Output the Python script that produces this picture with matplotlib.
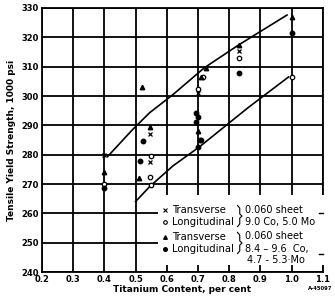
import numpy as np
import matplotlib
matplotlib.use('Agg')
import matplotlib.pyplot as plt
from matplotlib.patches import Rectangle

plt.rcParams['font.family'] = ['DejaVu Sans']

# 0.060 sheet, 9.0 Co, 5.0 Mo
trans_x = [0.40, 0.545, 0.545, 0.70, 0.83]
trans_y = [280, 287, 277.5, 301, 315.5]
long_x = [0.40, 0.55, 0.545, 0.55, 0.70, 0.715, 0.71, 0.83, 1.00]
long_y = [270, 279.5, 272.5, 269.5, 302.5, 306.5, 285, 313, 306.5]
# 0.060 sheet, 8.4-9.6 Co, 4.7-5.3 Mo
tri_x = [0.40, 0.52, 0.545, 0.51, 0.70, 0.71, 0.725, 0.83, 1.00]
tri_y = [274, 303, 289.5, 272, 288, 306.5, 309.5, 317.5, 327]
fill_x = [0.40, 0.525, 0.515, 0.695, 0.70, 0.695, 0.705, 0.70, 0.83, 1.00]
fill_y = [268.5, 284.8, 278, 294.3, 292.8, 291.2, 285, 282.5, 308, 321.5]

# band lines
upper_x = [0.41, 0.49, 0.545, 0.62, 0.72, 0.83, 0.985]
upper_y = [279.3, 288.5, 294.3, 300.5, 309.6, 317.4, 327.6]
lower_x = [0.50, 0.545, 0.62, 0.705, 0.86, 0.99]
lower_y = [264, 269.1, 276.2, 282.7, 296.0, 306.5]

xticks = [0.2, 0.3, 0.4, 0.5, 0.6, 0.7, 0.8, 0.9, 1.0, 1.1]
xtick_labels = ['0.2', '0.3', '0.4', '0.5', '0.6', '0.7', '0.8', '0.9', '1.0', '1.1']
yticks = [240, 250, 260, 270, 280, 290, 300, 310, 320, 330]

legend_rows = ['Transverse', 'Longitudinal', 'Transverse', 'Longitudinal']
legend_notes = ['0.060 sheet', '9.0 Co, 5.0 Mo', '0.060 sheet', '8.4 \u2013 9.6  Co,', '4.7 - 5.3\u00b7Mo']

fig = plt.figure(figsize=(3.35, 2.96), dpi=100)
ax = fig.add_axes([0.125, 0.081, 0.839, 0.892])
ax.set_xlim(0.2, 1.1)
ax.set_ylim(240, 330)
ax.set_xticks(xticks)
ax.set_xticklabels(xtick_labels)
ax.set_yticks(yticks)
ax.tick_params(length=0, pad=2, labelsize=6)
for lab in ax.get_xticklabels() + ax.get_yticklabels():
    lab.set_fontweight('bold')
ax.grid(True, color='black', linewidth=1.3)
for s in ax.spines.values():
    s.set_linewidth(1.3)

ax.plot(upper_x, upper_y, color='black', lw=1.2, zorder=3)
ax.plot(lower_x, lower_y, color='black', lw=1.2, zorder=3)

ms = 3.2
ax.plot(trans_x, trans_y, 'x', color='black', ms=ms, mew=0.9, zorder=4)
ax.plot(long_x, long_y, 'o', mfc='white', mec='black', ms=ms, mew=0.9, zorder=4)
ax.plot(tri_x, tri_y, '^', color='black', ms=ms, zorder=4)
ax.plot(fill_x, fill_y, 'o', color='black', ms=ms, zorder=4)

ax.set_xlabel('Titanium Content, per cent', fontsize=6.5, fontweight='bold', labelpad=1)
ax.set_ylabel('Tensile Yield Strength, 1000 psi', fontsize=6.5, fontweight='bold', labelpad=4)

# legend block on white patch
ax.add_patch(Rectangle((0.412, 0.026), 0.6, 0.265, transform=ax.transAxes,
                       facecolor='white', edgecolor='none', zorder=5, clip_on=False))
row_y = [0.235, 0.189, 0.133, 0.087]
styles = [dict(marker='x', color='black', mew=0.8),
          dict(marker='o', mfc='white', mec='black', mew=0.8),
          dict(marker='^', color='black'),
          dict(marker='o', color='black')]
for yy, txt, st in zip(row_y, legend_rows, styles):
    ax.plot([0.438], [yy], ls='none', ms=2.6, transform=ax.transAxes, zorder=6, clip_on=False, **st)
    ax.text(0.462, yy, txt, transform=ax.transAxes, fontsize=7.2, va='center', zorder=6)

# braces drawn as thin lines
for ytop, ybot in [(0.252, 0.172), (0.150, 0.070)]:
    ymid = (ytop + ybot) / 2
    bx = [0.696, 0.704, 0.704, 0.712, 0.704, 0.704, 0.696]
    by = [ytop, ytop - 0.01, ymid + 0.008, ymid, ymid - 0.008, ybot + 0.01, ybot]
    ax.plot(bx, by, color='black', lw=0.8, transform=ax.transAxes, zorder=6, clip_on=False)

note_y = [0.235, 0.189, 0.135, 0.089, 0.047]
note_x = [0.722, 0.722, 0.722, 0.722, 0.73]
for xx, yy, txt in zip(note_x, note_y, legend_notes):
    ax.text(xx, yy, txt, transform=ax.transAxes, fontsize=7, va='center', zorder=6)
ax.plot([0.985, 1.0], [0.222, 0.222], color='black', lw=1, transform=ax.transAxes, zorder=6, clip_on=False)
ax.plot([0.985, 1.0], [0.07, 0.07], color='black', lw=1, transform=ax.transAxes, zorder=6, clip_on=False)

fig.text(0.955, 0.02, 'A-45097', fontsize=3.8, ha='center', fontweight='bold')

fig.savefig('out.png', dpi=100)
